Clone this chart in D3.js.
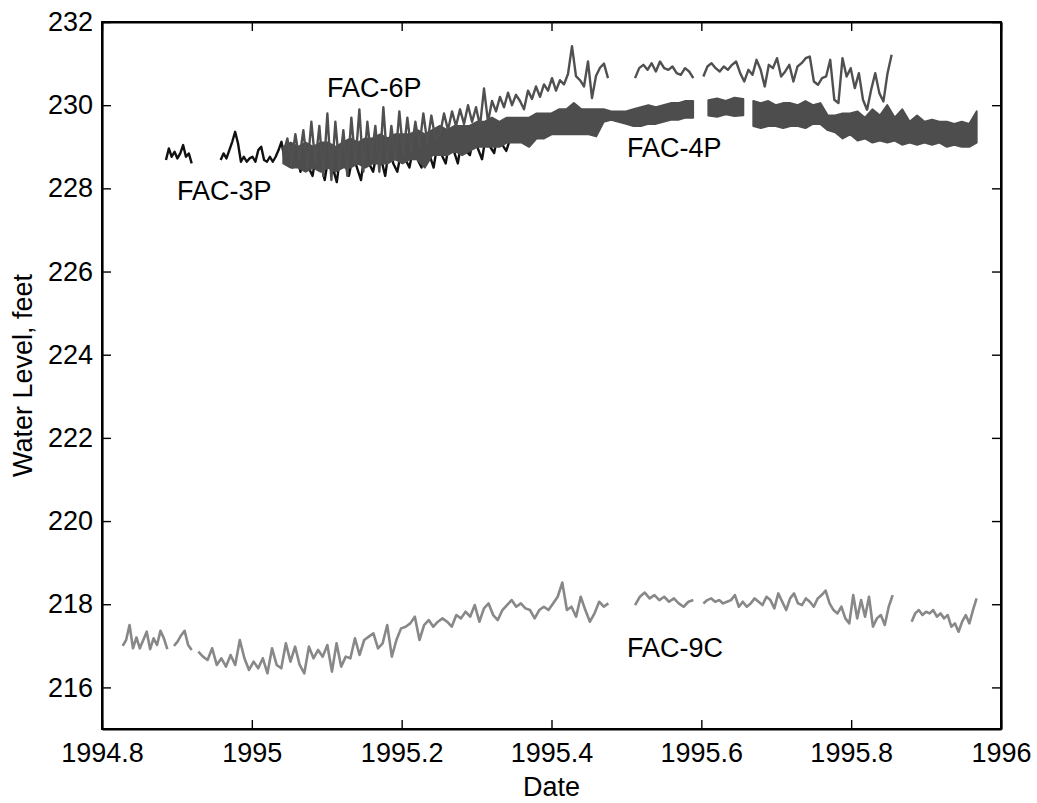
<!DOCTYPE html>
<html><head><meta charset="utf-8">
<script src="https://cdn.jsdelivr.net/npm/d3@7"></script>
<style>
body{margin:0;background:#fff}
text{font-family:"Liberation Sans",Arial,Helvetica,sans-serif}
</style>
</head><body>
<svg id="chart" width="1037" height="803"></svg>
<script>
// ---------------- DATA ----------------
const xTicks = [1994.8, 1995, 1995.2, 1995.4, 1995.6, 1995.8, 1996];
const xTickLabels = ["1994.8", "1995", "1995.2", "1995.4", "1995.6", "1995.8", "1996"];
const yTicks = [216, 218, 220, 222, 224, 226, 228, 230, 232];
const xTitle = "Date";
const yTitle = "Water Level, feet";

// FAC-9C : segments (start year, end year, values evenly spaced in between)
const fac9cStart = [1994.8276, 1994.8961, 1994.9286, 1995.5115, 1995.6027, 1995.8807];
const fac9cEnd   = [1994.8872, 1994.9197, 1995.4759, 1995.5893, 1995.8554, 1995.9674];
const fac9cValues = [
  [217.00, 217.14, 217.50, 216.94, 217.20, 216.94, 217.14, 217.34, 216.92, 217.18, 217.02, 217.36, 217.18, 216.92],
  [217.00, 217.10, 217.25, 217.36, 217.02, 216.90],
  [216.86, 216.74, 216.66, 216.94, 216.54, 216.70, 216.50, 216.78, 216.54, 217.14, 216.70, 216.42, 216.62, 216.46, 216.70, 216.34, 216.94, 216.54, 216.46, 217.06, 216.62, 216.98, 216.54, 216.34, 216.98, 216.70, 216.90, 216.74, 217.02, 216.38, 217.06, 216.50, 216.74, 216.70, 217.18, 216.78, 217.14, 217.22, 217.30, 216.94, 217.06, 217.50, 216.74, 217.14, 217.42, 217.46, 217.54, 217.70, 217.14, 217.50, 217.62,
   217.46, 217.58, 217.66, 217.58, 217.46, 217.74, 217.66, 217.82, 217.70, 217.98, 217.58, 217.90, 218.02, 217.74, 217.62, 217.86, 217.98, 218.10, 217.94, 218.02, 217.90, 217.86, 217.66, 217.86, 217.94, 217.86, 218.02, 218.18, 218.52, 217.86, 217.94, 217.70, 218.18, 217.86, 217.58, 217.78, 218.06, 217.94, 218.02],
  [217.98, 218.18, 218.28, 218.14, 218.22, 218.10, 218.18, 218.06, 218.14, 218.02, 217.94, 218.06, 218.10],
  [218.02, 218.10, 218.14, 218.06, 218.10, 218.02, 218.06, 218.10, 218.22, 217.94, 218.06, 217.94, 218.02, 218.14, 218.06, 217.98, 218.18, 218.10, 217.90, 218.26, 218.06, 217.86, 218.14, 218.26, 218.02, 217.98, 218.14, 218.06, 217.94, 218.14, 218.22, 218.33, 218.02, 217.86, 217.78, 217.94, 217.66, 217.54, 218.22, 217.66, 218.10, 217.70, 218.18, 217.46, 217.66, 217.74, 217.50, 217.94, 218.22],
  [217.58, 217.78, 217.86, 217.74, 217.82, 217.78, 217.86, 217.70, 217.78, 217.66, 217.74, 217.46, 217.54, 217.34, 217.58, 217.74, 217.54, 217.86, 218.14]
];

// FAC-3P
const fac3pStart = [1994.8854, 1994.9584, 1995.0434];
const fac3pEnd   = [1994.9197, 1995.0434, 1995.3450];
const fac3pValues = [
  [228.68, 228.96, 228.76, 228.88, 228.72, 228.84, 229.04, 228.76, 228.84, 228.60],
  [228.68, 228.84, 228.72, 228.92, 229.12, 229.36, 229.08, 228.64, 228.76, 228.64, 228.72, 228.76, 228.64, 228.92, 229.00, 228.68, 228.64, 228.76, 228.64, 228.76, 228.92, 229.12, 228.72],
  [228.72, 228.9, 228.5, 228.8, 228.4, 229.0, 228.5, 228.3, 228.9, 228.6, 228.2, 228.8, 228.5, 228.15, 228.9, 228.6, 228.3, 228.8, 228.5, 228.2, 228.9, 228.6, 228.4, 228.9, 228.7, 228.3, 229.0, 228.6, 228.4, 228.9, 228.7, 228.5, 229.0, 228.7, 228.5, 229.1, 228.8, 228.5, 229.1, 228.8, 228.6, 229.2, 228.9, 228.6, 229.2, 228.9, 228.8, 229.3, 228.95, 228.7, 229.3, 229.0, 228.85, 229.35, 229.05, 228.9, 229.2]
];

// FAC-4P : dense band, low / high envelope per segment
const fac4pStart = [1995.042, 1995.6094, 1995.6694];
const fac4pEnd   = [1995.589, 1995.6560, 1995.9675];
const fac4pLow = [
  [228.6, 228.5, 228.5, 228.4, 228.5, 228.4, 228.5, 228.4, 228.5, 228.5, 228.6, 228.5, 228.6, 228.6, 228.6, 228.7, 228.6, 228.7, 228.7, 228.5, 228.8, 228.8, 228.8, 228.9, 228.8, 228.9, 229.0, 229.0, 229.0, 229.0, 229.1, 229.1, 229.1, 229.0, 229.2, 229.2, 229.3, 229.3, 229.3, 229.3, 229.3, 229.3, 229.25, 229.6, 229.65, 229.6, 229.55, 229.5, 229.5, 229.55, 229.55, 229.6, 229.65, 229.65, 229.7, 229.7],
  [229.75, 229.72, 229.78, 229.74, 229.76],
  [229.5, 229.45, 229.5, 229.5, 229.45, 229.5, 229.5, 229.45, 229.55, 229.55, 229.4, 229.35, 229.2, 229.3, 229.15, 229.2, 229.1, 229.15, 229.1, 229.15, 229.05, 229.1, 229.05, 229.1, 229.05, 229.1, 229.0, 229.05, 229.0, 229.0, 229.1]
];
const fac4pHigh = [
  [229.0, 229.1, 229.0, 229.1, 229.0, 229.1, 229.1, 229.0, 229.1, 229.2, 229.1, 229.2, 229.2, 229.3, 229.2, 229.3, 229.3, 229.3, 229.4, 229.3, 229.4, 229.5, 229.4, 229.5, 229.5, 229.5, 229.6, 229.6, 229.7, 229.6, 229.7, 229.7, 229.7, 229.7, 229.8, 229.8, 229.8, 229.9, 229.9, 230.05, 229.9, 229.9, 229.9, 229.9, 229.85, 229.85, 229.85, 229.9, 229.95, 230.0, 229.95, 230.0, 230.05, 230.05, 230.1, 230.1],
  [230.12, 230.16, 230.10, 230.18, 230.15],
  [230.1, 230.05, 230.1, 230.0, 230.05, 230.05, 230.0, 230.1, 230.0, 230.05, 229.75, 229.75, 229.8, 229.8, 229.85, 229.7, 229.9, 229.75, 230.0, 229.7, 229.9, 229.6, 229.75, 229.6, 229.65, 229.6, 229.6, 229.55, 229.6, 229.55, 229.85]
];

// FAC-6P
const fac6pStart = [1995.0421, 1995.2512, 1995.5115, 1995.6027];
const fac6pEnd   = [1995.2503, 1995.4754, 1995.5893, 1995.8540];
const fac6pValues = [
  [228.85, 229.2, 228.6, 229.3, 228.7, 229.4, 228.5, 229.6, 228.6, 229.5, 228.3, 229.8, 228.2, 229.6, 228.5, 229.4, 228.3, 229.7, 228.6, 229.9, 228.4, 229.6, 228.7, 229.5, 228.4, 229.95, 228.6, 229.5, 228.7, 229.85, 228.8, 229.7, 228.9, 229.6, 229.0, 229.8, 229.1, 229.75, 229.2, 229.3],
  [229.3, 229.8, 229.4, 229.85, 229.5, 229.9, 229.55, 230.0, 229.6, 229.95, 229.5, 230.4, 229.6, 230.1, 229.85, 230.2, 229.95, 230.3, 230.0, 230.25, 230.1, 229.9, 230.35, 230.15, 230.45, 230.2, 230.5, 230.35, 230.65, 230.35, 230.6, 230.5, 230.75, 231.42, 230.7, 230.6, 230.45, 231.05, 230.17, 230.7, 230.9, 231.0, 230.65],
  [230.65, 230.89, 230.97, 230.85, 231.01, 230.81, 231.05, 230.89, 230.85, 230.93, 230.77, 230.73, 230.89, 230.81, 230.65],
  [230.69, 230.93, 231.01, 230.89, 230.81, 230.93, 230.85, 230.97, 231.05, 230.77, 230.57, 230.85, 230.73, 231.09, 230.85, 230.45, 230.97, 230.89, 231.13, 230.69, 230.81, 230.97, 230.57, 230.93, 231.01, 231.13, 231.17, 230.57, 230.49, 230.65, 230.69, 231.09, 230.13, 230.05, 231.13, 230.69, 230.89, 230.41, 230.77, 230.13, 229.89, 230.37, 230.77, 230.29, 230.09, 230.77, 231.21]
];

// Annotation labels (anchored in data coordinates)
const labelNames  = ["FAC-6P", "FAC-3P", "FAC-4P", "FAC-9C"];
const labelYears  = [1995.1003, 1994.9001, 1995.5008, 1995.5008];
const labelLevels = [230.20, 227.72, 228.755, 216.73];

// ---------------- CHART ----------------
const svg = d3.select("#chart");
const x = d3.scaleLinear().domain([1994.8, 1996]).range([102, 1001]);
const y = d3.scaleLinear().domain([215, 232]).range([729, 22]);

function toPoints(start, end, vals) {
  const n = vals.length;
  return vals.map((v, i) => [start + (n > 1 ? i * (end - start) / (n - 1) : 0), v]);
}
const line = d3.line().x(d => x(d[0])).y(d => y(d[1]));

function drawSeries(starts, ends, values, color, width) {
  values.forEach((vals, s) => {
    svg.append("path")
      .datum(toPoints(starts[s], ends[s], vals))
      .attr("d", line)
      .attr("fill", "none")
      .attr("stroke", color)
      .attr("stroke-width", width)
      .attr("stroke-linejoin", "round");
  });
}

// FAC-9C
drawSeries(fac9cStart, fac9cEnd, fac9cValues, "#888888", 2.6);
// FAC-3P
drawSeries(fac3pStart, fac3pEnd, fac3pValues, "#111111", 2.4);
// FAC-4P band
const area = d3.area().x(d => x(d.t)).y0(d => y(d.lo)).y1(d => y(d.hi));
fac4pLow.forEach((lows, s) => {
  const n = lows.length;
  const pts = lows.map((lo, i) => ({
    t: fac4pStart[s] + (n > 1 ? i * (fac4pEnd[s] - fac4pStart[s]) / (n - 1) : 0),
    lo: lo, hi: fac4pHigh[s][i]
  }));
  svg.append("path").datum(pts).attr("d", area)
    .attr("fill", "#4d4d4d").attr("stroke", "#4d4d4d").attr("stroke-width", 2)
    .attr("stroke-linejoin", "round");
});
// FAC-6P
drawSeries(fac6pStart, fac6pEnd, fac6pValues, "#505050", 2.4);

// Axes (ticks inside, box)
const fs = 27;
const gB = svg.append("g").attr("transform", `translate(0,${y(215)})`)
  .call(d3.axisBottom(x).tickValues(xTicks).tickFormat((d, i) => xTickLabels[i])
    .tickSizeInner(-9).tickSizeOuter(0).tickPadding(14));
const gT = svg.append("g").attr("transform", `translate(0,${y(232)})`)
  .call(d3.axisTop(x).tickValues(xTicks).tickFormat("").tickSizeInner(-9).tickSizeOuter(0));
const gL = svg.append("g").attr("transform", `translate(${x(1994.8)},0)`)
  .call(d3.axisLeft(y).tickValues(yTicks).tickFormat(d3.format("d"))
    .tickSizeInner(-9).tickSizeOuter(0).tickPadding(9));
const gR = svg.append("g").attr("transform", `translate(${x(1996)},0)`)
  .call(d3.axisRight(y).tickValues(yTicks).tickFormat("").tickSizeInner(-9).tickSizeOuter(0));

[gB, gT, gL, gR].forEach(g => {
  g.select(".domain").attr("stroke", "#000").attr("stroke-width", 2.2);
  g.selectAll(".tick line").attr("stroke", "#000").attr("stroke-width", 1.4);
  g.selectAll(".tick text").attr("font-size", fs)
    .attr("font-family", '"Liberation Sans", Arial, sans-serif').attr("fill", "#000");
});
svg.append("rect").attr("x", x(1994.8)).attr("y", y(232))
  .attr("width", x(1996) - x(1994.8)).attr("height", y(215) - y(232))
  .attr("fill", "none").attr("stroke", "#000").attr("stroke-width", 2);

// Titles
svg.append("text").attr("x", (x(1994.8) + x(1996)) / 2).attr("y", 796)
  .attr("text-anchor", "middle").attr("font-size", fs).text(xTitle);
svg.append("text")
  .attr("transform", `translate(32,${(y(215) + y(232)) / 2}) rotate(-90)`)
  .attr("text-anchor", "middle").attr("font-size", fs).text(yTitle);

// Annotations
labelNames.forEach((name, i) => {
  svg.append("text").attr("x", x(labelYears[i])).attr("y", y(labelLevels[i]))
    .attr("font-size", fs).attr("fill", "#000").text(name);
});
</script>
</body></html>
